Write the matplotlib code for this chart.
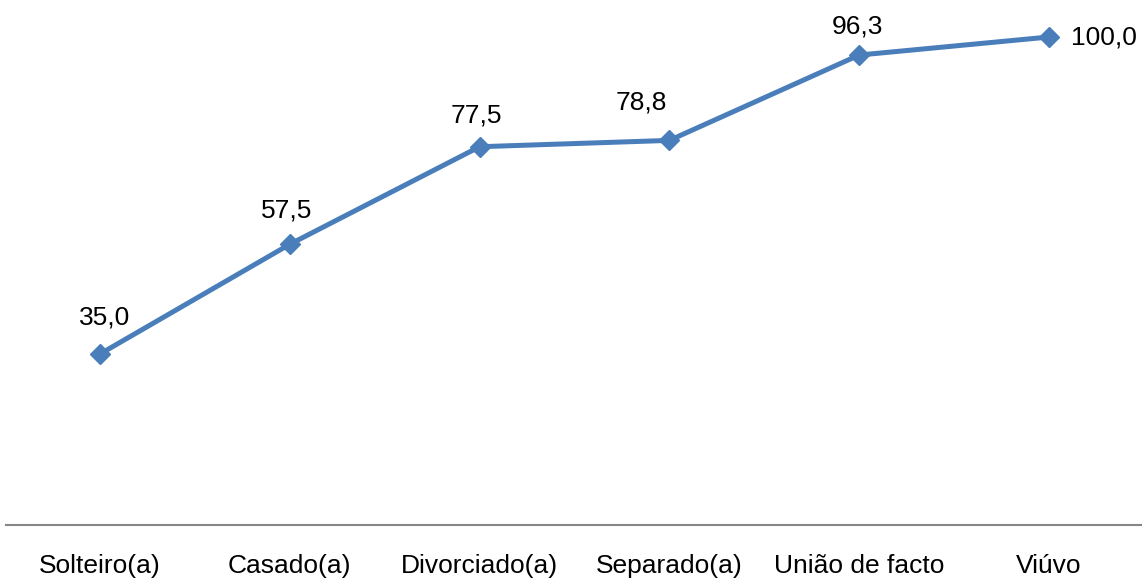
import matplotlib
matplotlib.use("Agg")
import matplotlib.pyplot as plt

categories = ["Solteiro(a)", "Casado(a)", "Divorciado(a)", "Separado(a)", "União de facto", "Viúvo"]
values = [35.0, 57.5, 77.5, 78.8, 96.3, 100.0]
labels = ["35,0", "57,5", "77,5", "78,8", "96,3", "100,0"]

# label placement offsets (points), styling only
label_dx = [3.6, -2.2, -2.2, -20.0, -1.5]
label_dy = [21.6, 19.4, 17.3, 22.3, 15.8]

plt.rcParams['font.family'] = ['Liberation Sans', 'DejaVu Sans']

W, H = 1142, 580
fig = plt.figure(figsize=(W / 100, H / 100), dpi=100)
left_px, right_px = 6, 1142
bottom_px, top_px = 524.7, 37  # from top
ax = fig.add_axes([left_px / W, (H - bottom_px) / H, (right_px - left_px) / W, (bottom_px - top_px) / H])

color = "#4A7EBB"
x = list(range(len(categories)))
ax.plot(x, values, color=color, lw=3.6, marker='D', ms=9.8, zorder=3, clip_on=False)

ax.set_ylim(0, 100)
ax.set_xlim(-0.495, 5.49)

fs = 19
for xi, v, lab, dx, dy in zip(x[:-1], values[:-1], labels[:-1], label_dx, label_dy):
    ax.annotate(lab, (xi, v), xytext=(dx, dy), textcoords='offset points',
                ha='center', va='baseline', fontsize=fs, color='black')
ax.annotate(labels[-1], (x[-1], values[-1]), xytext=(16, 0), textcoords='offset points',
            ha='left', va='center', fontsize=fs, color='black')

ax.set_xticks(x)
ax.set_xticklabels(categories, fontsize=fs)
ax.tick_params(axis='x', length=0, pad=21)
ax.set_yticks([])
for s in ['left', 'right', 'top']:
    ax.spines[s].set_visible(False)
ax.spines['bottom'].set_color('#868686')
ax.spines['bottom'].set_linewidth(1.5)
ax.patch.set_alpha(0)

fig.savefig("out.png", dpi=100)
